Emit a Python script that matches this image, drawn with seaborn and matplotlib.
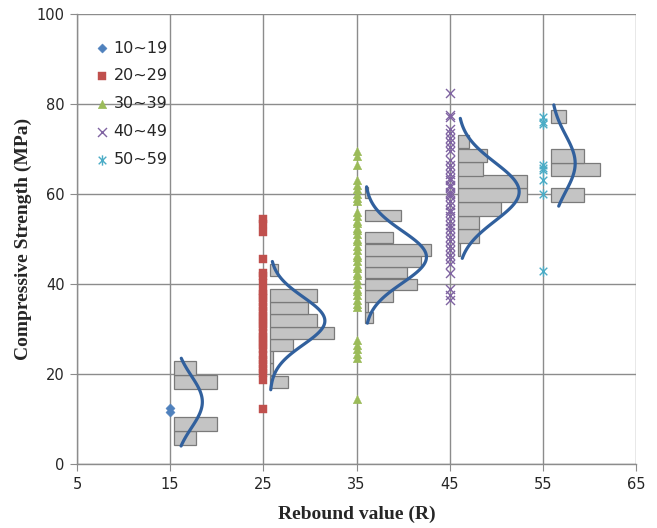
import numpy as np
import matplotlib
matplotlib.use("Agg")
import matplotlib.pyplot as plt
import seaborn as sns
from matplotlib.path import Path

# ---------------- data ----------------
groups = ["10~19", "20~29", "30~39", "40~49", "50~59"]
rebound_x = [15, 25, 35, 45, 55]

strength_10 = [11.6, 12.4]
strength_20 = [54.5, 53.3, 51.5, 45.5, 42.5, 41.8, 40.2, 38.5, 37.8, 36.8, 36.0,
               35.0, 34.0, 33.0, 32.2, 31.2, 30.5, 29.2, 28.2, 27.3, 26.5, 25.5,
               24.2, 23.2, 22.2, 21.2, 20.3, 18.7, 12.2]
strength_30 = [69.5, 68.5, 66.5, 63.0, 62.0, 61.0, 60.0, 59.0, 58.5, 56.0, 55.0,
               54.0, 53.5, 52.5, 52.0, 51.0, 50.0, 49.5, 48.5, 47.5, 46.5, 46.0,
               45.0, 44.0, 43.5, 42.5, 42.0, 41.0, 40.0, 39.0, 38.5, 37.5, 36.5,
               35.5, 34.8, 27.5, 26.5, 25.5, 24.5, 23.5, 14.5]
strength_40 = [82.5, 77.5, 77.0, 74.5, 73.5, 72.5, 71.5, 70.5, 69.5, 67.5, 66.5,
               65.5, 64.5, 63.5, 63.0, 62.0, 61.5, 60.5, 60.0, 59.5, 58.5, 57.5,
               56.5, 56.0, 55.0, 54.0, 53.0, 52.5, 51.5, 50.5, 49.5, 48.5, 47.5,
               46.5, 45.5, 44.5, 42.5, 39.0, 37.5, 36.5]
strength_50 = [77.0, 76.0, 75.5, 66.5, 65.8, 65.3, 63.0, 60.0, 43.0]
strengths = [strength_10, strength_20, strength_30, strength_40, strength_50]

# histogram bars (horizontal): bin lower edges, bin height, bar lengths, bar base
hist_low_10 = [4.2, 7.4, 16.6, 19.8]
hist_len_10 = [2.3, 4.6, 4.6, 2.3]
hist_low_20 = [16.9, 19.8, 22.5, 25.1, 27.8, 30.5, 33.3, 36.1, 41.7]
hist_len_20 = [1.9, 0.35, 0.35, 2.5, 6.9, 5.1, 4.1, 5.1, 0.9]
hist_low_30 = [31.3, 33.7, 36.1, 38.7, 41.3, 43.7, 46.3, 49.0, 54.0, 59.0]
hist_len_30 = [0.9, 0.3, 3.0, 5.6, 4.5, 6.0, 7.1, 3.0, 3.9, 0.3]
hist_low_40 = [46.3, 49.2, 52.2, 55.2, 58.3, 61.3, 64.1, 67.1, 70.2]
hist_len_40 = [0.3, 2.3, 2.3, 4.6, 7.4, 7.4, 2.7, 3.1, 1.25]
hist_low_50 = [58.3, 63.9, 66.9, 75.7]
hist_len_50 = [3.5, 5.3, 3.5, 1.6]
hist_lows = [hist_low_10, hist_low_20, hist_low_30, hist_low_40, hist_low_50]
hist_lens = [hist_len_10, hist_len_20, hist_len_30, hist_len_40, hist_len_50]
hist_bin_h = [3.1, 2.75, 2.5, 2.95, 3.0]
hist_base = [15.45, 25.7, 35.9, 45.85, 55.86]

# fitted normal curves: mean, sd, peak width, y-range
curve_mu = [13.8, 31.8, 46.0, 60.5, 66.8]
curve_sd = [5.8, 5.3, 5.8, 6.5, 6.3]
curve_amp = [3.0, 5.9, 6.6, 6.6, 2.6]
curve_ymin = [4.0, 16.5, 31.3, 45.7, 57.3]
curve_ymax = [23.5, 45.0, 61.6, 76.8, 79.8]

x_ticks = [5, 15, 25, 35, 45, 55, 65]
y_ticks = [0, 20, 40, 60, 80, 100]

# ---------------- style ----------------
sns.set_style("white")
plt.rcParams["font.family"] = ["DejaVu Sans"]

colors = ["#4F81BD", "#C0504D", "#9BBB59", "#8064A2", "#4BACC6"]
star = Path([(-1, -1), (1, 1), (-1, 1), (1, -1), (0, -1.35), (0, 1.35)],
            [Path.MOVETO, Path.LINETO, Path.MOVETO, Path.LINETO, Path.MOVETO, Path.LINETO])
markers = ["D", "s", "^", "x", star]
sizes = [22, 30, 38, 42, 55]

fig = plt.figure(figsize=(6.57, 5.28), dpi=100)
ax = fig.add_axes([0.1172, 0.1212, 0.851, 0.8523])

# histograms
for lows, lens, h, base in zip(hist_lows, hist_lens, hist_bin_h, hist_base):
    ax.barh(y=lows, width=lens, height=h, left=base, align="edge",
            color="#C4C4C4", edgecolor="#7A7A7A", linewidth=0.9, zorder=2)

# fitted curves
for mu, sd, amp, y0, y1, base in zip(curve_mu, curve_sd, curve_amp,
                                     curve_ymin, curve_ymax, hist_base):
    ys = np.linspace(y0, y1, 120)
    xs = base + amp * np.exp(-(ys - mu) ** 2 / (2 * sd ** 2))
    sns.lineplot(x=xs, y=ys, sort=False, estimator=None, color="#31609D",
                 linewidth=2.3, ax=ax, zorder=4)

# scatter points
for g, xv, vals, c, m, s in zip(groups, rebound_x, strengths, colors, markers, sizes):
    xs = [xv] * len(vals)
    if m == "x":
        sns.scatterplot(x=xs, y=vals, marker=m, color=c, s=s, linewidth=1.0,
                        label=g, ax=ax, zorder=3)
    elif m is star:
        sns.scatterplot(x=xs, y=vals, marker=m, color=c, edgecolor=c, s=s,
                        linewidth=1.0, label=g, ax=ax, zorder=3)
    else:
        sns.scatterplot(x=xs, y=vals, marker=m, color=c, edgecolor=c, s=s,
                        linewidth=0.3, label=g, ax=ax, zorder=3)

ax.set_xlim(5, 65)
ax.set_ylim(0, 100)
ax.set_xticks(x_ticks)
ax.set_yticks(y_ticks)
ax.grid(True, color="#8C8C8C", linewidth=1.0)
ax.set_axisbelow(True)
for sp in ["top", "right"]:
    ax.spines[sp].set_visible(False)
for sp in ["left", "bottom"]:
    ax.spines[sp].set_color("#8C8C8C")
    ax.spines[sp].set_linewidth(1.0)
ax.tick_params(axis="both", which="both", direction="out", length=5,
               color="#8C8C8C", labelsize=10.5, pad=4, left=True, bottom=True)
for lab in ax.get_xticklabels() + ax.get_yticklabels():
    lab.set_family(["Liberation Sans Narrow", "DejaVu Sans"])

ax.set_xlabel("Rebound value (R)", fontsize=14, fontweight="bold",
              family=["Liberation Serif"], labelpad=10)
ax.set_ylabel("Compressive Strength (MPa)", fontsize=14, fontweight="bold",
              family=["Liberation Serif"], labelpad=3)

ax.legend(loc="upper left", bbox_to_anchor=(0.01, 0.962), frameon=False,
          prop={"size": 11.5}, handletextpad=0.15, labelspacing=0.8,
          handlelength=1.2, borderaxespad=0.2)

fig.savefig("out.png", dpi=100)
